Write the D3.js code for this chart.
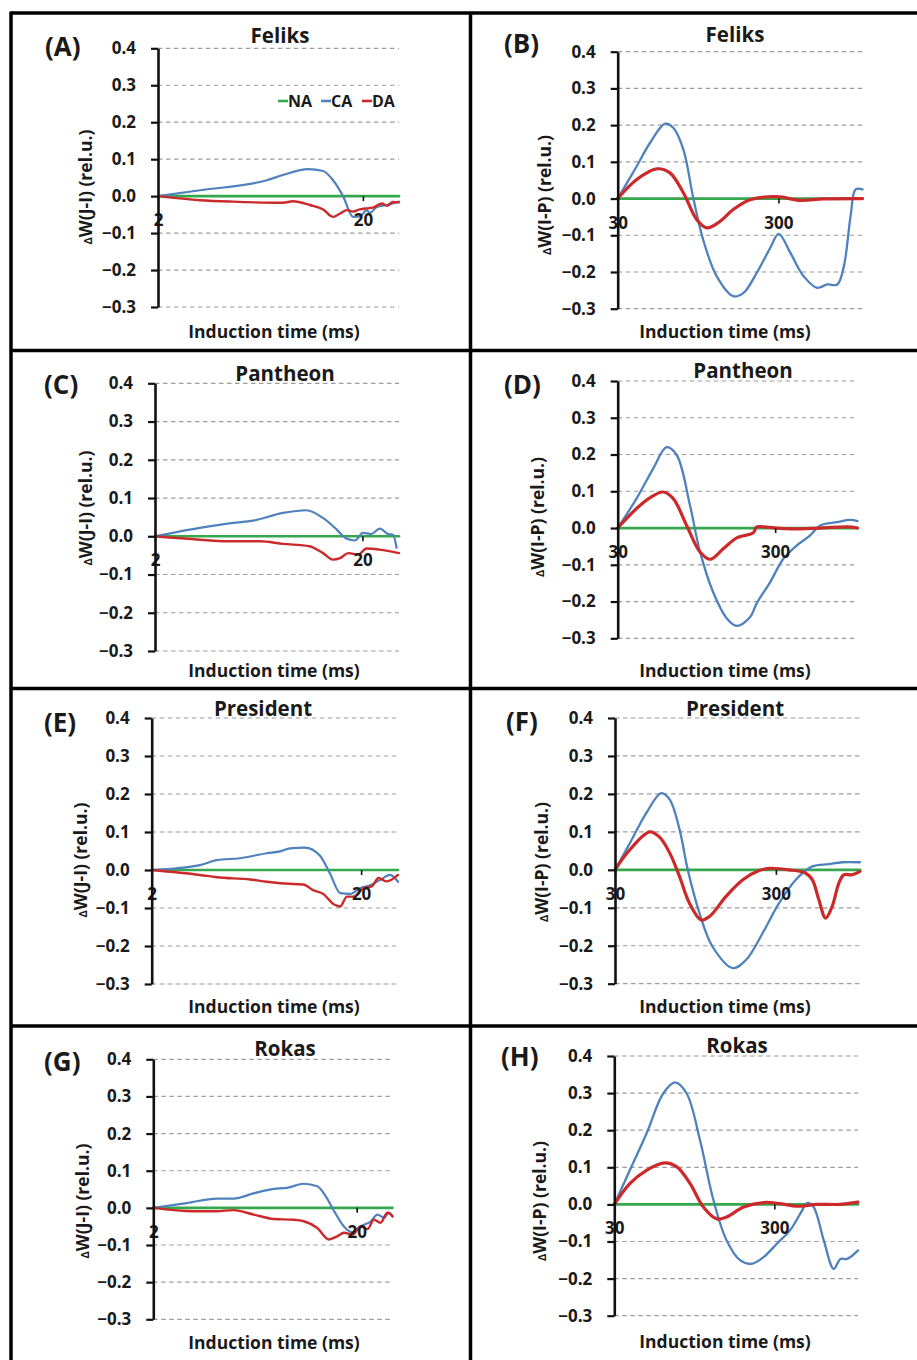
<!DOCTYPE html>
<html>
<head>
<meta charset="utf-8">
<script src="https://cdn.jsdelivr.net/npm/d3@7"></script>
<style>
  html, body { margin: 0; padding: 0; background: #fff; }
  svg text { font-family: "Open Sans", Lato, "DejaVu Sans", sans-serif; font-weight: bold; fill: #1a1a1a; }
</style>
</head>
<body>
<script>
// ---- axis ranges and ticks ----
const xDomainJI = [2, 30];        // induction time (ms), J-I phase
const xDomainIP = [30, 1000];     // induction time (ms), I-P phase
const xTicksJI = [2, 20];
const xTicksIP = [30, 300];
const yDomain = [-0.3, 0.4];
const yTicks = [-0.3, -0.2, -0.1, 0.0, 0.1, 0.2, 0.3, 0.4];
const seriesNames = ["NA", "CA", "DA"];

// ---- NA (reference) ----
const naJI = [[2, 0], [30, 0]];
const naIP = [[30, 0], [1000, 0]];

// ---- Feliks ----
const feliksJI_CA = [[2,0],[3.21,0.016],[6.8,0.043],[8.14,0.057],[10.8,0.073],[12.8,0.068],[14.3,0.043],[16,0],[17.9,-0.056],[19.3,-0.055],[20.9,-0.038],[21.6,-0.046],[23.4,-0.029],[26.2,-0.024],[30,-0.015]];
const feliksJI_DA = [[2,0],[3.21,-0.011],[4.64,-0.015],[8.14,-0.018],[9.12,-0.014],[11.0,-0.024],[12.8,-0.036],[14.3,-0.056],[15.5,-0.047],[16.7,-0.038],[17.9,-0.042],[19.3,-0.036],[20.9,-0.033],[22.4,-0.031],[24.8,-0.02],[26.2,-0.026],[28,-0.016],[30,-0.017]];
const feliksIP_CA = [[30,0],[39.4,0.088],[47.7,0.152],[59.2,0.204],[66.5,0.193],[76.8,0.134],[88.7,0],[102,-0.112],[124,-0.212],[157,-0.266],[182,-0.257],[220,-0.202],[267,-0.134],[301,-0.096],[356,-0.148],[431,-0.212],[522,-0.243],[604,-0.234],[697,-0.234],[766,-0.184],[843,-0.048],[906,0.025],[1000,0.025]];
const feliksIP_DA = [[30,0],[39.4,0.052],[52.4,0.081],[63.4,0.07],[76.8,0.016],[93,-0.057],[107.7,-0.08],[130,-0.062],[157,-0.03],[200,-0.003],[294,0.005],[411,-0.005],[575,-0.001],[1000,0]];

// ---- Pantheon ----
const pantheonJI_CA = [[2,0],[3.29,0.022],[4.76,0.035],[5.95,0.041],[8.29,0.061],[10.7,0.068],[12.9,0.048],[15,0.018],[16.7,-0.006],[18.4,-0.011],[20.1,0.009],[22.1,0.006],[24.2,0.02],[26.6,0.006],[28.1,0.004],[29.2,-0.03]];
const pantheonJI_DA = [[2,0],[3.29,-0.009],[4.43,-0.013],[6.4,-0.013],[8.29,-0.02],[11.1,-0.026],[12.9,-0.044],[14.4,-0.061],[15.6,-0.057],[17.1,-0.044],[19.1,-0.048],[20.9,-0.032],[24.2,-0.035],[30,-0.044]];
const pantheonIP_CA = [[30,0],[39.5,0.08],[50.3,0.161],[61.4,0.22],[71.2,0.198],[86.3,0.062],[100,-0.065],[121,-0.174],[148,-0.246],[171,-0.266],[208,-0.242],[229,-0.205],[279,-0.147],[339,-0.083],[412,-0.047],[501,-0.02],[579,0.007],[740,0.016],[900,0.022],[1000,0.019]];
const pantheonIP_DA = [[30,0],[39.5,0.053],[48,0.082],[58.3,0.098],[67.6,0.08],[82.2,0.007],[100,-0.065],[116,-0.085],[141,-0.056],[171,-0.027],[218,-0.013],[229,0.003],[253,0.003],[356,-0.002],[579,0],[857,0.003],[1000,0]];

// ---- President ----
const presidentJI_CA = [[2,0],[3.4,0.013],[4.09,0.026],[5.28,0.031],[7.09,0.044],[8.2,0.049],[9.16,0.057],[10.8,0.059],[12.7,0.038],[14.2,-0.009],[15.9,-0.061],[17.7,-0.063],[19.8,-0.048],[22.1,-0.04],[24.7,-0.026],[27.5,-0.013],[30,-0.031]];
const presidentJI_DA = [[2,0],[3.4,-0.013],[4.09,-0.019],[5.9,-0.025],[7.09,-0.031],[9.5,-0.037],[10.6,-0.038],[11.8,-0.053],[13.2,-0.063],[14.8,-0.09],[15.9,-0.096],[17.1,-0.07],[18.4,-0.07],[20.5,-0.048],[22.5,-0.043],[24.2,-0.021],[26.5,-0.03],[30,-0.013]];
const presidentIP_CA = [[30,0],[37.1,0.07],[47,0.15],[58.2,0.202],[65.7,0.185],[75.6,0.106],[85,0],[100.5,-0.114],[121,-0.202],[162,-0.259],[196,-0.237],[248,-0.167],[314,-0.088],[399,-0.026],[505,0.009],[640,0.015],[775,0.02],[1000,0.02]];
const presidentIP_DA = [[30,0],[37.1,0.053],[49.3,0.1],[56.8,0.086],[65.7,0.044],[75.6,-0.018],[87.1,-0.088],[103,-0.132],[116,-0.123],[147,-0.07],[187,-0.026],[236,-0.002],[273,0.004],[363,0],[460,-0.009],[505,-0.026],[555,-0.079],[611,-0.127],[672,-0.096],[739,-0.035],[794,-0.013],[894,-0.013],[1000,-0.004]];

// ---- Rokas ----
const rokasJI_CA = [[2,0],[2.92,0.013],[4.11,0.025],[4.96,0.025],[6.23,0.039],[7.82,0.051],[9.1,0.054],[11,0.065],[12.8,0.058],[14.1,0.031],[15.5,-0.009],[17.3,-0.05],[19.1,-0.066],[20.9,-0.05],[23.5,-0.036],[25.3,-0.018],[27.3,-0.027],[28.8,-0.013],[30,-0.023]];
const rokasJI_DA = [[2,0],[3.15,-0.009],[4.11,-0.009],[4.96,-0.006],[6.23,-0.018],[7.82,-0.03],[9.81,-0.032],[11,-0.036],[12.8,-0.054],[14.6,-0.085],[16.1,-0.076],[17.3,-0.067],[19.1,-0.072],[20.9,-0.05],[22.6,-0.057],[24.3,-0.032],[26.2,-0.04],[28.3,-0.013],[30,-0.023]];
const rokasIP_CA = [[30,0],[37.5,0.092],[47.7,0.191],[60.6,0.299],[72,0.329],[85,0.299],[103,0.173],[125,0.011],[151,-0.097],[184,-0.151],[217,-0.16],[257,-0.142],[311,-0.106],[376,-0.07],[436,-0.025],[484,0.004],[528,-0.007],[611,-0.097],[705,-0.174],[777,-0.147],[856,-0.147],[1000,-0.124]];
const rokasIP_DA = [[30,0],[37.5,0.056],[47.7,0.092],[62.2,0.112],[73.8,0.101],[89.3,0.056],[108,-0.007],[131,-0.039],[151,-0.034],[193,-0.007],[257,0.005],[327,0.002],[416,-0.005],[554,0],[766,0],[1000,0.006]];

// ---- panel layout ----
const panels = [
  { tag: "(A)", name: "Feliks",    kind: "JI", na: naJI, ca: feliksJI_CA,    da: feliksJI_DA,    x0: 158,   x1: 399,   yTop: 48.3,   yBot: 307,    titleX: 280, titleY: 42.5, tagX: 45,  tagY: 56,   ytX: 86,  ytY: 187,  xtX: 274, xtY: 338, legend: true },
  { tag: "(B)", name: "Feliks",    kind: "IP", na: naIP, ca: feliksIP_CA,    da: feliksIP_DA,    x0: 617.7, x1: 862.5, yTop: 51.7,   yBot: 308.7,  titleX: 735, titleY: 41.5, tagX: 504, tagY: 53,   ytX: 545, ytY: 195,  xtX: 725, xtY: 338 },
  { tag: "(C)", name: "Pantheon",  kind: "JI", na: naJI, ca: pantheonJI_CA,  da: pantheonJI_DA,  x0: 155,   x1: 399,   yTop: 383.3,  yBot: 651,    titleX: 285, titleY: 381,  tagX: 44,  tagY: 394,  ytX: 86,  ytY: 508,  xtX: 274, xtY: 677 },
  { tag: "(D)", name: "Pantheon",  kind: "IP", na: naIP, ca: pantheonIP_CA,  da: pantheonIP_DA,  x0: 617.7, x1: 857.5, yTop: 381,    yBot: 638.3,  titleX: 743, titleY: 378,  tagX: 504, tagY: 394,  ytX: 538, ytY: 517,  xtX: 725, xtY: 677 },
  { tag: "(E)", name: "President", kind: "JI", na: naJI, ca: presidentJI_CA, da: presidentJI_DA, x0: 151.7, x1: 398,   yTop: 718,    yBot: 984,    titleX: 263, titleY: 716,  tagX: 44,  tagY: 732,  ytX: 81,  ytY: 860,  xtX: 274, xtY: 1013 },
  { tag: "(F)", name: "President", kind: "IP", na: naIP, ca: presidentIP_CA, da: presidentIP_DA, x0: 615,   x1: 860,   yTop: 718,    yBot: 983.7,  titleX: 735, titleY: 716,  tagX: 506, tagY: 731,  ytX: 542, ytY: 862,  xtX: 725, xtY: 1013 },
  { tag: "(G)", name: "Rokas",     kind: "JI", na: naJI, ca: rokasJI_CA,     da: rokasJI_DA,     x0: 153.3, x1: 392.5, yTop: 1059.3, yBot: 1319.3, titleX: 285, titleY: 1056, tagX: 44,  tagY: 1071, ytX: 83,  ytY: 1201, xtX: 274, xtY: 1349 },
  { tag: "(H)", name: "Rokas",     kind: "IP", na: naIP, ca: rokasIP_CA,     da: rokasIP_DA,     x0: 614.3, x1: 858,   yTop: 1056,   yBot: 1315.7, titleX: 737, titleY: 1053, tagX: 501, tagY: 1066, ytX: 540, ytY: 1201, xtX: 725, xtY: 1348 }
];

const colors = { NA: "#35a84e", CA: "#4f81bd", DA: "#cc2a2a" };

const svg = d3.select("body").append("svg")
  .attr("width", 917).attr("height", 1360);
svg.append("rect").attr("width", 917).attr("height", 1360).attr("fill", "#fff");

const fmtY = d3.format(".1f");
const tickFont = 17;

panels.forEach(p => {
  const isJI = p.kind === "JI";
  const x = d3.scaleLog().domain(isJI ? xDomainJI : xDomainIP).range([p.x0, p.x1]);
  const y = d3.scaleLinear().domain(yDomain).range([p.yBot, p.yTop]);
  const g = svg.append("g");

  // dashed horizontal gridlines
  g.append("g").selectAll("line").data(yTicks).join("line")
    .attr("x1", p.x0).attr("x2", p.x1)
    .attr("y1", d => y(d)).attr("y2", d => y(d))
    .attr("stroke", "#9c9c9c").attr("stroke-width", 1.2)
    .attr("stroke-dasharray", "4.5,3.5");

  // series lines
  const line = d3.line()
    .x(d => x(d[0])).y(d => y(d[1]))
    .curve(isJI ? d3.curveMonotoneX : d3.curveCatmullRom.alpha(0.5));
  const widths = isJI ? { NA: 2.6, CA: 2.2, DA: 2.4 } : { NA: 2.8, CA: 2.3, DA: 3.2 };
  [["NA", p.na], ["CA", p.ca], ["DA", p.da]].forEach(([k, data]) => {
    g.append("path").datum(data)
      .attr("d", line)
      .attr("fill", "none")
      .attr("stroke", colors[k])
      .attr("stroke-width", widths[k])
      .attr("stroke-linejoin", "round")
      .attr("stroke-linecap", "round");
  });

  // x axis ticks crossing at zero
  const xAxis = d3.axisBottom(x)
    .tickValues(isJI ? xTicksJI : xTicksIP)
    .tickFormat(d3.format("d"))
    .tickSize(5).tickPadding(13);
  const gx = g.append("g").attr("transform", `translate(0,${y(0)})`).call(xAxis);
  gx.select(".domain").remove();
  gx.selectAll(".tick line").attr("stroke", "#111").attr("stroke-width", 1.6);
  gx.selectAll(".tick text").attr("font-size", tickFont).attr("fill", "#1a1a1a")
    .style("font-family", "'Open Sans', Lato, sans-serif").style("font-weight", "bold");

  // y axis
  const yAxis = d3.axisLeft(y)
    .tickValues(yTicks).tickFormat(fmtY)
    .tickSize(7).tickSizeOuter(0).tickPadding(15);
  const gy = g.append("g").attr("transform", `translate(${p.x0},0)`).call(yAxis);
  gy.select(".domain").attr("stroke", "#111").attr("stroke-width", 2.6);
  gy.selectAll(".tick line").attr("stroke", "#111").attr("stroke-width", 2.2);
  gy.selectAll(".tick text").attr("font-size", tickFont).attr("fill", "#1a1a1a")
    .style("font-family", "'Open Sans', Lato, sans-serif").style("font-weight", "bold");

  // panel tag and title
  g.append("text").attr("x", p.tagX).attr("y", p.tagY).attr("font-size", 26).text(p.tag);
  g.append("text").attr("x", p.titleX).attr("y", p.titleY).attr("text-anchor", "middle")
    .attr("font-size", 20.5).text(p.name);

  // axis titles
  g.append("text").attr("x", p.xtX).attr("y", p.xtY).attr("text-anchor", "middle")
    .attr("font-size", 17.5).text("Induction time (ms)");
  const yt = g.append("text")
    .attr("transform", `translate(${p.ytX},${p.ytY}) rotate(-90)`)
    .attr("text-anchor", "middle").attr("dy", "0.35em").attr("font-size", 17.5);
  yt.append("tspan").attr("font-size", 11).text("Δ");
  yt.append("tspan").text(isJI ? "W(J-I) (rel.u.)" : "W(I-P) (rel.u.)");

  // legend
  if (p.legend) {
    const ly = 101;
    const items = [
      { k: "NA", lx: 278 },
      { k: "CA", lx: 321 },
      { k: "DA", lx: 362 }
    ];
    items.forEach(it => {
      g.append("line").attr("x1", it.lx).attr("x2", it.lx + 10)
        .attr("y1", ly).attr("y2", ly)
        .attr("stroke", colors[it.k]).attr("stroke-width", 2.6);
      g.append("text").attr("x", it.lx + 10).attr("y", ly).attr("dy", "0.36em")
        .attr("font-size", 16).text(seriesNames[seriesNames.indexOf(it.k)]);
    });
  }
});

// panel frame
const frame = svg.append("g").attr("stroke", "#000").attr("stroke-width", 3.5);
frame.append("line").attr("x1", 11).attr("x2", 917).attr("y1", 13).attr("y2", 13);
frame.append("line").attr("x1", 11).attr("x2", 11).attr("y1", 11.5).attr("y2", 1360);
frame.append("line").attr("x1", 470.5).attr("x2", 470.5).attr("y1", 13).attr("y2", 1360);
[350.5, 688.5, 1026].forEach(yy => {
  frame.append("line").attr("x1", 11).attr("x2", 917).attr("y1", yy).attr("y2", yy);
});
</script>
</body>
</html>
